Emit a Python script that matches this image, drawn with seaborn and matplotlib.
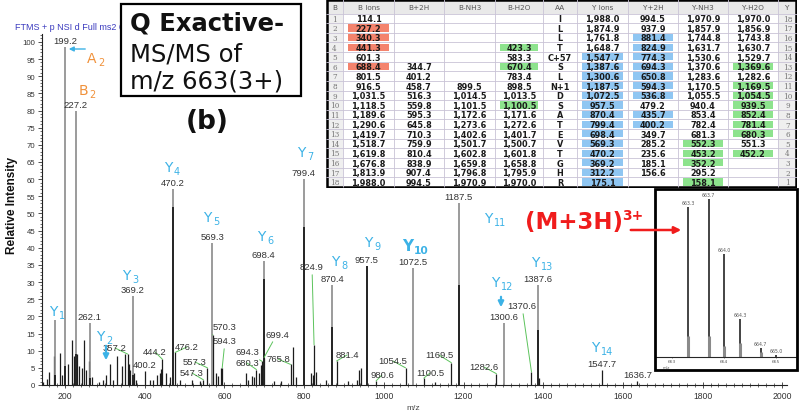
import matplotlib
matplotlib.use("Agg")
import matplotlib.pyplot as plt
import seaborn as sns
from matplotlib import font_manager
from matplotlib.patches import Rectangle, FancyArrowPatch
from matplotlib.ticker import MultipleLocator

# ---- MS/MS spectrum, m/z 663 (3+) ----
major_mz = [175.1, 199.2, 227.2, 262.1, 369.2, 470.2, 569.3, 698.4, 799.4,
            870.4, 957.5, 1072.5, 1187.5, 1300.6, 1387.6]
major_int = [19, 98.5, 80, 18, 26, 57, 41.5, 36, 60, 29, 34.7, 34, 53, 18, 29]
major_dark = [3, 5.5, 9, 2, 3, 52, 0, 31, 46, 17, 34.7, 0, 29, 0, 16]

minor_mz = [145, 154, 160, 173, 187, 193, 208, 217, 223, 231,
            236, 242, 248, 253, 261, 267, 284, 295, 303, 312.2,
            321, 331, 342, 350, 357.2, 361, 364, 374, 379, 400.2,
            414, 421, 431, 437, 441, 444.2, 452, 464, 476.2, 489,
            519, 538, 547.3, 557.3, 570.3, 578, 583, 591, 594.3, 653,
            659, 670, 674, 680.3, 686, 691, 694.3, 699.4, 724, 741,
            765.8, 773, 779, 816, 821, 824.9, 831, 854, 881.4, 909,
            932, 938, 942, 980.6, 1054.5, 1100.5, 1129, 1169.5, 1282.6, 1370.6,
            1390, 1547.7, 1636.7]
minor_int = [1.0, 1.7, 3.8, 8.5, 9.2, 3, 6, 13, 8.4, 9,
             5.4, 5, 13, 4.5, 7, 2.4, 0.8, 1.6, 2.9, 6,
             1.5, 8.5, 5.5, 9, 9, 6, 4.5, 3.4, 1.6, 4,
             1.6, 1.6, 3, 3.4, 4.7, 7.5, 3.4, 2.2, 9.5, 1.6,
             1.4, 1.1, 1.5, 5, 14.6, 3.4, 2.5, 5, 5, 3.4,
             1.6, 2.5, 2.4, 4.5, 3.4, 5.8, 6.9, 8, 1.1, 1.1,
             6, 11, 2.4, 3.4, 3, 11.7, 3.8, 1.6, 7, 1.1,
             1.6, 4.5, 5, 1.2, 5, 2, 0.9, 6.5, 3.3, 3.8,
             2, 4.4, 1.3]

direct_labels = [199.2, 227.2, 262.1, 369.2, 400.2, 470.2, 569.3, 698.4, 799.4,
                 870.4, 957.5, 1072.5, 1187.5, 1300.6, 1387.6, 1547.7, 1636.7]
# m/z, label centre in canvas pixels
leader_labels = [(357.2, 115, 349), (444.2, 155, 353), (476.2, 187, 348),
                 (547.3, 192, 374), (557.3, 195, 363), (570.3, 225, 328),
                 (594.3, 225, 342), (680.3, 247, 364), (694.3, 247, 353),
                 (699.4, 277, 335), (765.8, 278, 360), (824.9, 312, 268),
                 (881.4, 347, 356), (980.6, 382, 376), (1054.5, 393, 362),
                 (1100.5, 430, 374), (1169.5, 439, 356), (1282.6, 484, 368),
                 (1370.6, 522, 307)]
# subscript, x, y, bold
y_ion_labels = [("1", 53, 312, False), ("2", 100, 337, False), ("3", 126, 276, False),
                ("4", 168, 168, False), ("5", 207, 218, False), ("6", 261, 237, False),
                ("7", 301, 153, False), ("8", 335, 262, False), ("9", 368, 243, False),
                ("10", 408, 247, True), ("11", 488, 219, False), ("12", 495, 283, False),
                ("13", 535, 263, False), ("14", 595, 348, False)]

# ---- isotope envelope inset ----
inset_mz = [663.3, 663.7, 664.0, 664.3, 664.7, 665.0]
inset_int = [95, 100, 65, 24, 5.7, 1.5]
inset_base = [13, 13, 7, 9, 3, 0]

# ---- fragment table ----
tab_header = ["B", "B Ions", "B+2H", "B-NH3", "B-H2O", "AA",
              "Y Ions", "Y+2H", "Y-NH3", "Y-H2O", "Y"]
b_idx = [str(i) for i in range(1, 19)]
b_ions = ["114.1", "227.2", "340.3", "441.3", "601.3", "688.4", "801.5", "916.5",
          "1,031.5", "1,118.5", "1,189.6", "1,290.6", "1,419.7", "1,518.7",
          "1,619.8", "1,676.8", "1,813.9", "1,988.0"]
b_2h = ["", "", "", "", "", "344.7", "401.2", "458.7", "516.3", "559.8", "595.3",
        "645.8", "710.3", "759.9", "810.4", "838.9", "907.4", "994.5"]
b_nh3 = ["", "", "", "", "", "", "", "899.5", "1,014.5", "1,101.5", "1,172.6",
         "1,273.6", "1,402.6", "1,501.7", "1,602.8", "1,659.8", "1,796.8", "1,970.9"]
b_h2o = ["", "", "", "423.3", "583.3", "670.4", "783.4", "898.5", "1,013.5",
         "1,100.5", "1,171.6", "1,272.6", "1,401.7", "1,500.7", "1,601.8",
         "1,658.8", "1,795.9", "1,970.0"]
aa = ["I", "L", "L", "T", "C+57", "S", "L", "N+1", "D", "S", "A", "T", "E", "V",
      "T", "G", "H", "R"]
y_ions = ["1,988.0", "1,874.9", "1,761.8", "1,648.7", "1,547.7", "1,387.6",
          "1,300.6", "1,187.5", "1,072.5", "957.5", "870.4", "799.4", "698.4",
          "569.3", "470.2", "369.2", "312.2", "175.1"]
y_2h = ["994.5", "937.9", "881.4", "824.9", "774.3", "694.3", "650.8", "594.3",
        "536.8", "479.2", "435.7", "400.2", "349.7", "285.2", "235.6", "185.1",
        "156.6", ""]
y_nh3 = ["1,970.9", "1,857.9", "1,744.8", "1,631.7", "1,530.6", "1,370.6",
         "1,283.6", "1,170.5", "1,055.5", "940.4", "853.4", "782.4", "681.3",
         "552.3", "453.2", "352.2", "295.2", "158.1"]
y_h2o = ["1,970.0", "1,856.9", "1,743.8", "1,630.7", "1,529.7", "1,369.6",
         "1,282.6", "1,169.5", "1,054.5", "939.5", "852.4", "781.4", "680.3",
         "551.3", "452.2", "", "", ""]
y_idx = [str(i) for i in range(18, 0, -1)]
table_cols = [b_idx, b_ions, b_2h, b_nh3, b_h2o, aa, y_ions, y_2h, y_nh3, y_h2o, y_idx]

SALMON, GREEN, LBLUE = "#f4836d", "#8de38d", "#8fc6f2"
# column -> (colour, matched rows, 1-based)
highlights = {1: (SALMON, [2, 3, 4, 6]),
              4: (GREEN, [4, 6, 10]),
              6: (LBLUE, list(range(5, 19))),
              7: (LBLUE, [3, 4, 5, 6, 7, 8, 9, 11, 12]),
              8: (GREEN, [14, 15, 16, 18]),
              9: (GREEN, [6, 8, 9, 10, 11, 12, 13, 15])}

W, H = 800, 414
BLUE = "#3cb2e6"
ORANGE = "#f0923c"


def P(x, y):
    """canvas pixel (from top-left) -> figure fraction"""
    return x / W, 1 - y / H


installed = {f.name for f in font_manager.fontManager.ttflist}
narrow = "Liberation Sans Narrow" in installed
NUM = "Liberation Sans"

sns.set_theme(style="ticks")
plt.rcParams["font.family"] = ["DejaVu Sans"]

fig = plt.figure(figsize=(8, 4.14), dpi=100)
fig.patch.set_facecolor("white")

# ---------------- main spectrum ----------------
ax = fig.add_axes([42 / W, 1 - 386 / H, 745 / W, 351 / H])
ax.set_facecolor("white")
ax.vlines(minor_mz, 0, minor_int, color="#1c1c1c", lw=0.9)
ax.vlines(major_mz, 0, major_int, color="#8a8a8a", lw=1.2)
ax.vlines(major_mz, 0, major_dark, color="#111111", lw=1.2)
ax.set_xlim(142, 2012)
ax.set_ylim(0, 102.3)
ax.xaxis.set_major_locator(MultipleLocator(200))
ax.xaxis.set_minor_locator(MultipleLocator(20))
ax.yaxis.set_major_locator(MultipleLocator(5))
ax.yaxis.set_minor_locator(MultipleLocator(1))
ax.tick_params(axis="y", which="major", direction="out", length=3, width=0.6,
               color="#333", labelsize=6.3 if narrow else 5.6, labelcolor="#333", pad=2)
ax.tick_params(axis="y", which="minor", direction="out", length=1.5, width=0.5, color="#333")
ax.tick_params(axis="x", which="major", direction="inout", length=4, width=0.6,
               color="#333", labelsize=7 if narrow else 6.2, labelcolor="#333", pad=2)
ax.tick_params(axis="x", which="minor", direction="inout", length=2.2, width=0.5, color="#333")
for lab in ax.get_xticklabels() + ax.get_yticklabels():
    lab.set_family("Liberation Sans Narrow" if narrow else NUM)
sns.despine(ax=ax)
for side in ("left", "bottom"):
    ax.spines[side].set_color("#222")
    ax.spines[side].set_linewidth(0.8)

peak_int = dict(zip(major_mz + minor_mz, major_int + minor_int))
for m in direct_labels:
    ax.annotate(f"{m:.1f}", xy=(m, peak_int[m]), xytext=(0, 2),
                textcoords="offset pixels", ha="center", va="bottom",
                fontsize=6.8, color="#333", family=NUM)
for m, x, y in leader_labels:
    ax.annotate(f"{m:.1f}", xy=(m, peak_int[m]), xytext=P(x, y),
                textcoords="figure fraction", ha="center", va="center",
                fontsize=6.8, color="#333", family=NUM,
                arrowprops=dict(arrowstyle="-", color="#5cc35c", lw=0.7,
                                shrinkA=0, shrinkB=0))

for sub, x, y, bold in y_ion_labels:
    w = "bold" if bold else "normal"
    fs = 11 if bold else 10
    fig.text(*P(x, y), "Y", ha="center", va="center", fontsize=fs, color=BLUE, weight=w)
    fig.text(*P(x + 6, y + 4), sub, ha="left", va="center", fontsize=fs * 0.7,
             color=BLUE, weight=w)

fig.text(*P(92, 59), "A", ha="center", va="center", fontsize=10, color=ORANGE)
fig.text(*P(98, 63), "2", ha="left", va="center", fontsize=7, color=ORANGE)
fig.text(*P(83, 91), "B", ha="center", va="center", fontsize=10, color=ORANGE)
fig.text(*P(89, 95), "2", ha="left", va="center", fontsize=7, color=ORANGE)


def arrow(p0, p1, color, lw, scale):
    fig.add_artist(FancyArrowPatch(P(*p0), P(*p1), transform=fig.transFigure,
                                   arrowstyle="-|>", mutation_scale=scale,
                                   color=color, lw=lw, zorder=10))


arrow((88, 50), (66, 50), BLUE, 1.0, 7)
arrow((106, 344), (106, 364), BLUE, 1.6, 8)
arrow((501, 295), (501, 311), BLUE, 1.6, 8)
arrow((628, 231), (684, 231), "#f01c1c", 1.8, 10)

fig.text(*P(12, 206), "Relative Intensity", rotation=90, ha="center", va="center",
         fontsize=10 if narrow else 8.5, weight="bold", color="#111",
         family="Liberation Sans Narrow" if narrow else NUM)
fig.text(*P(413, 409), "m/z", ha="center", va="center", fontsize=6, color="#444", family=NUM)
fig.text(*P(124, 28), "FTMS + p NSI d Full ms2 6", ha="right", va="center",
         fontsize=6.5, color="#3b3bbf", family=NUM)

# title box
fig.add_artist(Rectangle(P(121, 97), 180 / W, 92 / H, transform=fig.transFigure,
                         fc="white", ec="black", lw=1.6, zorder=5))
fig.text(*P(130, 24), "Q Exactive-", ha="left", va="center", fontsize=17.5,
         weight="bold", color="#111", zorder=6)
fig.text(*P(130, 55), "MS/MS of", ha="left", va="center", fontsize=17.5,
         color="#111", zorder=6)
fig.text(*P(130, 82), "m/z 663(3+)", ha="left", va="center", fontsize=17.5,
         color="#111", zorder=6)
fig.text(*P(207, 122), "(b)", ha="center", va="center", fontsize=19,
         weight="bold", color="#111")

fig.text(*P(574, 223), "(M+3H)", ha="center", va="center", fontsize=16.5,
         weight="bold", color="#f01c1c")
fig.text(*P(633, 216), "3+", ha="center", va="center", fontsize=10,
         weight="bold", color="#f01c1c")

# ---------------- isotope inset ----------------
ins = fig.add_axes([655 / W, 1 - 371 / H, 142 / W, 181 / H], zorder=4)
ins.set_facecolor("white")
ins.vlines(inset_mz, 0, inset_int, color="#111", lw=1.1)
ins.vlines(inset_mz, 0, inset_base, color="#8a8a8a", lw=2.2)
ins.set_xlim(662.67, 665.40)
ins.set_ylim(-8.2, 106.3)
for s in ("top", "right", "left"):
    ins.spines[s].set_visible(False)
ins.spines["bottom"].set_position(("data", 0))
ins.spines["bottom"].set_linewidth(0.8)
ins.set_yticks([])
ins.xaxis.set_major_locator(MultipleLocator(1))
ins.xaxis.set_minor_locator(MultipleLocator(0.1))
ins.tick_params(axis="x", which="major", direction="out", length=1.0, width=0.4,
                labelsize=3.2, labelcolor="#555", pad=0.3)
ins.tick_params(axis="x", which="minor", direction="out", length=0.8, width=0.3)
for m, v in zip(inset_mz, inset_int):
    ins.annotate(f"{m:.1f}", xy=(m, v), xytext=(0, 2), textcoords="offset pixels",
                 ha="center", va="bottom", fontsize=3.3, color="#555")
fig.text(*P(666, 367.8), "m/z", ha="center", va="center", fontsize=2.9, color="#555",
         zorder=6)
fig.add_artist(Rectangle(P(655, 371), 142 / W, 181 / H, transform=fig.transFigure,
                         fill=False, ec="black", lw=2.0, zorder=8))

# ---------------- fragment table ----------------
tab = fig.add_axes([326 / W, 1 - 189 / H, 471 / W, 189 / H], zorder=5)
tab.set_xlim(0, 471)
tab.set_ylim(189, 0)
tab.axis("off")
edges = [0, 17, 68, 118, 169, 217, 251, 302, 352, 402, 452, 471]
HEAD, ROW = 14.5, 9.63
bottom = HEAD + 18 * ROW
tab.add_patch(Rectangle((0, 0), 471, bottom, fc="white", ec="none"))
tab.add_patch(Rectangle((0, 0), 471, HEAD, fc="#e9e9e9", ec="none"))
for c in (0, 10):
    tab.add_patch(Rectangle((edges[c], HEAD), edges[c + 1] - edges[c], 18 * ROW,
                            fc="#efefef", ec="none"))
for c, (colour, rows) in highlights.items():
    for r in rows:
        tab.add_patch(Rectangle((edges[c] + 5, HEAD + (r - 1) * ROW + 1.2),
                                edges[c + 1] - edges[c] - 10, ROW - 2.4,
                                fc=colour, ec="none"))
tab.hlines([HEAD + k * ROW for k in range(18)], 0, 471, color="#c9c3d6", lw=0.6)
tab.vlines(edges[1:-1], 0, bottom, color="#c9c3d6", lw=0.6)
for c, name in enumerate(tab_header):
    cx = (edges[c] + edges[c + 1]) / 2
    tab.text(cx, HEAD / 2 + 0.5, name, ha="center", va="center", fontsize=5.2,
             color="#555")
    for r, val in enumerate(table_cols[c]):
        cy = HEAD + (r + 0.5) * ROW + 0.3
        if c in (0, 10):
            tab.text(cx, cy, val, ha="center", va="center", fontsize=5.2,
                     color="#777", family="DejaVu Serif")
        else:
            tab.text(cx, cy, val, ha="center", va="center", fontsize=5.9,
                     weight="bold", color="#1a1a1a")
tab.add_patch(Rectangle((0.8, 0.8), 469.4, bottom - 0.8, fill=False, ec="black", lw=1.8))

fig.savefig("out.png", dpi=100, facecolor="white")
